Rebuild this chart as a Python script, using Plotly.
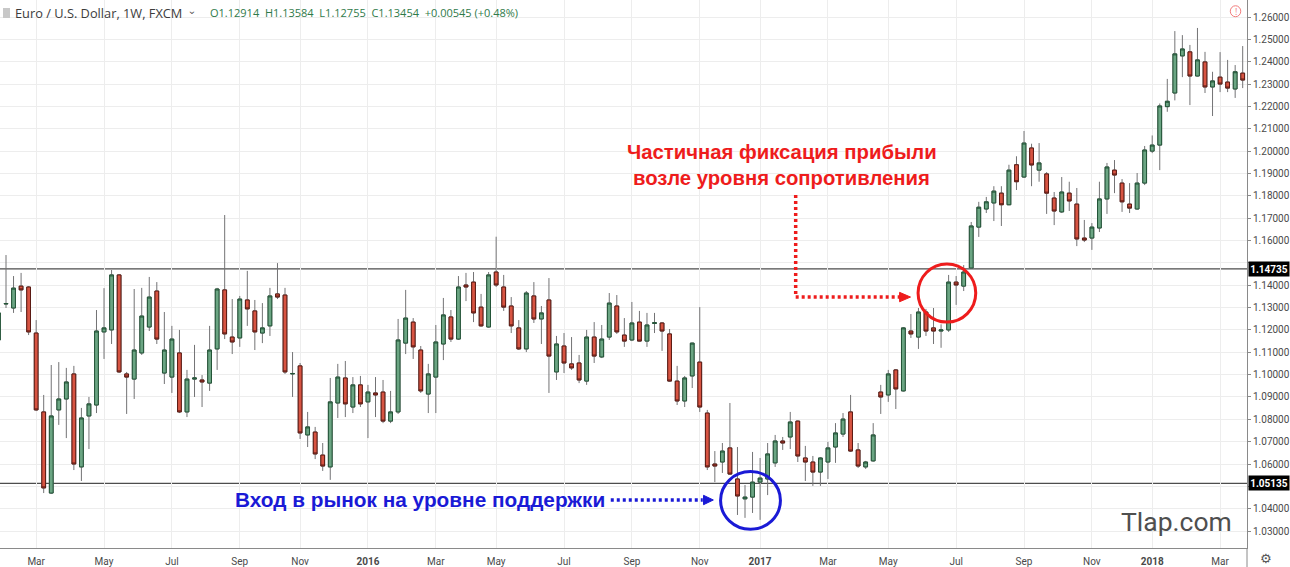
import plotly.graph_objects as go

# ---- weekly EUR/USD candles (index 0 = week of 26 Jan 2015) ----
open_ = [1.1155, 1.1316, 1.1298, 1.1396, 1.1392, 1.1186, 1.0833, 1.0470, 1.0842, 1.0891,
         1.1003, 1.0587, 1.0815, 1.0864, 1.1191, 1.1200, 1.1446, 1.1003, 1.0980, 1.1097,
         1.1213, 1.1374, 1.1007, 1.0989, 1.1097, 1.0833, 1.0980, 1.0976, 1.0962, 1.1115,
         1.1379, 1.1168, 1.1164, 1.1334, 1.1285, 1.1186, 1.1218, 1.1361, 1.1356, 1.1003,
         1.1039, 1.0730, 1.0743, 1.0640, 1.0587, 1.0873, 1.0985, 1.0855, 1.0954, 1.0878,
         1.0918, 1.0922, 1.0792, 1.0833, 1.1141, 1.1235, 1.1110, 1.0913, 1.0989, 1.1137,
         1.1258, 1.1159, 1.1401, 1.1414, 1.1302, 1.1213, 1.1459, 1.1392, 1.1307, 1.1209,
         1.1115, 1.1352, 1.1249, 1.1334, 1.1012, 1.1128, 1.1048, 1.1052, 1.0971, 1.1168,
         1.1079, 1.1168, 1.1307, 1.1177, 1.1155, 1.1235, 1.1150, 1.1229, 1.1231, 1.1182,
         1.0971, 1.0882, 1.0994, 1.1056, 1.0828, 1.0600, 1.0609, 1.0672, 1.0533, 1.0444,
         1.0452, 1.0519, 1.0533, 1.0605, 1.0703, 1.0721, 1.0792, 1.0627, 1.0609, 1.0564,
         1.0609, 1.0676, 1.0734, 1.0833, 1.0663, 1.0587, 1.0614, 1.0922, 1.0909, 1.1021,
         1.0927, 1.1195, 1.1168, 1.1280, 1.1209, 1.1195, 1.1200, 1.1414, 1.1396, 1.1477,
         1.1660, 1.1741, 1.1768, 1.1812, 1.1760, 1.1939, 1.1884, 1.2014, 1.1915, 1.1898,
         1.1790, 1.1728, 1.1812, 1.1763, 1.1611, 1.1611, 1.1656, 1.1786, 1.1915, 1.1857,
         1.1763, 1.1741, 1.1857, 1.2000, 1.2027, 1.2199, 1.2260, 1.2426, 1.2444, 1.2336,
         1.2399, 1.2287, 1.2331, 1.2309, 1.2278, 1.2349]
high = [1.1289, 1.1535, 1.1441, 1.1455, 1.1396, 1.1244, 1.0909, 1.1043, 1.1056, 1.1030,
        1.1039, 1.0851, 1.0900, 1.1289, 1.1387, 1.1468, 1.1450, 1.1012, 1.1383, 1.1388,
        1.1437, 1.1414, 1.1280, 1.1218, 1.1200, 1.1021, 1.1133, 1.0998, 1.1218, 1.1388,
        1.1714, 1.1338, 1.1352, 1.1464, 1.1334, 1.1320, 1.1388, 1.1499, 1.1388, 1.1101,
        1.1052, 1.0833, 1.0766, 1.0694, 1.0985, 1.1048, 1.1061, 1.0989, 1.0994, 1.0954,
        1.0989, 1.0976, 1.0927, 1.1249, 1.1379, 1.1253, 1.1128, 1.1048, 1.1222, 1.1343,
        1.1289, 1.1441, 1.1455, 1.1459, 1.1361, 1.1459, 1.1617, 1.1446, 1.1347, 1.1244,
        1.1374, 1.1414, 1.1307, 1.1432, 1.1173, 1.1186, 1.1168, 1.1088, 1.1200, 1.1235,
        1.1222, 1.1365, 1.1356, 1.1253, 1.1325, 1.1285, 1.1276, 1.1276, 1.1235, 1.1204,
        1.1039, 1.0994, 1.1143, 1.1302, 1.0842, 1.0658, 1.0694, 1.0873, 1.0676, 1.0506,
        1.0654, 1.0627, 1.0694, 1.0730, 1.0721, 1.0833, 1.0795, 1.0681, 1.0636, 1.0631,
        1.0699, 1.0783, 1.0828, 1.0909, 1.0694, 1.0614, 1.0783, 1.0954, 1.1021, 1.1025,
        1.1213, 1.1271, 1.1298, 1.1294, 1.1298, 1.1225, 1.1446, 1.1441, 1.1490, 1.1683,
        1.1773, 1.1795, 1.1843, 1.1843, 1.1939, 1.1977, 1.2090, 1.2033, 1.2036, 1.1906,
        1.1817, 1.1884, 1.1863, 1.1835, 1.1692, 1.1678, 1.1863, 1.1947, 1.1960, 1.1875,
        1.1857, 1.1902, 1.2023, 1.2070, 1.2213, 1.2323, 1.2537, 1.2519, 1.2475, 1.2551,
        1.2444, 1.2355, 1.2443, 1.2408, 1.2385, 1.2470]
low = [1.1146, 1.1298, 1.1276, 1.1280, 1.1177, 1.0837, 1.0470, 1.0466, 1.0775, 1.0716,
       1.0573, 1.0524, 1.0667, 1.0828, 1.1070, 1.1137, 1.1007, 1.0824, 1.0891, 1.1088,
       1.1195, 1.1137, 1.0958, 1.0918, 1.0828, 1.0810, 1.0900, 1.0855, 1.0927, 1.1021,
       1.1159, 1.1092, 1.1124, 1.1218, 1.1110, 1.1141, 1.1173, 1.1338, 1.1003, 1.0900,
       1.0712, 1.0676, 1.0622, 1.0569, 1.0529, 1.0806, 1.0810, 1.0828, 1.0855, 1.0716,
       1.0810, 1.0783, 1.0783, 1.0824, 1.1092, 1.1070, 1.0918, 1.0828, 1.0828, 1.1065,
       1.1146, 1.1155, 1.1329, 1.1235, 1.1214, 1.1210, 1.1392, 1.1285, 1.1186, 1.1110,
       1.1101, 1.1231, 1.1137, 1.0918, 1.0976, 1.1007, 1.1021, 1.0962, 1.0954, 1.1052,
       1.1074, 1.1155, 1.1182, 1.1124, 1.1150, 1.1148, 1.1124, 1.1186, 1.1106, 1.0968,
       1.0864, 1.0855, 1.0940, 1.0833, 1.0573, 1.0519, 1.0560, 1.0552, 1.0372, 1.0359,
       1.0381, 1.0350, 1.0461, 1.0587, 1.0663, 1.0667, 1.0609, 1.0524, 1.0502, 1.0502,
       1.0533, 1.0605, 1.0721, 1.0654, 1.0582, 1.0578, 1.0610, 1.0824, 1.0878, 1.0846,
       1.0924, 1.1164, 1.1115, 1.1173, 1.1137, 1.1120, 1.1191, 1.1312, 1.1374, 1.1473,
       1.1616, 1.1723, 1.1687, 1.1665, 1.1758, 1.1826, 1.1880, 1.1843, 1.1863, 1.1719,
       1.1669, 1.1723, 1.1732, 1.1575, 1.1593, 1.1558, 1.1638, 1.1719, 1.1812, 1.1728,
       1.1723, 1.1738, 1.1848, 1.1991, 1.1915, 1.2176, 1.2227, 1.2331, 1.2206, 1.2334,
       1.2260, 1.2157, 1.2264, 1.2264, 1.2238, 1.2282]
close = [1.1276, 1.1318, 1.1387, 1.1379, 1.1191, 1.0842, 1.0493, 1.0815, 1.0891, 1.0967,
         1.0600, 1.0806, 1.0869, 1.1195, 1.1209, 1.1446, 1.1012, 1.0989, 1.1110, 1.1262,
         1.1347, 1.1159, 1.1110, 1.1159, 1.0833, 1.0980, 1.0985, 1.0967, 1.1110, 1.1383,
         1.1182, 1.1146, 1.1338, 1.1294, 1.1191, 1.1209, 1.1352, 1.1347, 1.1012, 1.1005,
         1.0739, 1.0766, 1.0645, 1.0591, 1.0878, 1.0989, 1.0869, 1.0954, 1.0869, 1.0922,
         1.0909, 1.0792, 1.0833, 1.1155, 1.1253, 1.1124, 1.0927, 1.1003, 1.1146, 1.1267,
         1.1159, 1.1392, 1.1392, 1.1276, 1.1218, 1.1446, 1.1401, 1.1302, 1.1218, 1.1115,
         1.1365, 1.1249, 1.1276, 1.1083, 1.1137, 1.1052, 1.1030, 1.0976, 1.1168, 1.1083,
         1.1159, 1.1320, 1.1191, 1.1150, 1.1231, 1.1150, 1.1222, 1.1232, 1.1195, 1.0971,
         1.0882, 1.0985, 1.1141, 1.0855, 1.0587, 1.0591, 1.0658, 1.0555, 1.0457, 1.0452,
         1.0519, 1.0537, 1.0645, 1.0703, 1.0694, 1.0788, 1.0636, 1.0609, 1.0564, 1.0627,
         1.0672, 1.0739, 1.0801, 1.0658, 1.0591, 1.0609, 1.0730, 1.0900, 1.1003, 1.0936,
         1.1209, 1.1182, 1.1280, 1.1195, 1.1195, 1.1200, 1.1414, 1.1401, 1.1459, 1.1665,
         1.1749, 1.1773, 1.1821, 1.1760, 1.1915, 1.1863, 1.2036, 1.1938, 1.1947, 1.1812,
         1.1732, 1.1817, 1.1777, 1.1607, 1.1602, 1.1660, 1.1786, 1.1929, 1.1893, 1.1773,
         1.1745, 1.1857, 1.2005, 1.2027, 1.2202, 1.2223, 1.2435, 1.2457, 1.2336, 1.2408,
         1.2287, 1.2314, 1.2300, 1.2282, 1.2355, 1.2318]

tick_weeks = [5, 14, 23, 32, 40, 49, 58, 66, 75, 84, 93, 101, 110, 118, 127, 136, 145, 153, 162]
tick_labels = ["Mar", "May", "Jul", "Sep", "Nov", "<b>2016</b>", "Mar", "May", "Jul", "Sep",
               "Nov", "<b>2017</b>", "Mar", "May", "Jul", "Sep", "Nov", "<b>2018</b>", "Mar"]

price_ticks = [1.03, 1.04, 1.05, 1.06, 1.07, 1.08, 1.09, 1.10, 1.11, 1.12, 1.13, 1.14,
               1.15, 1.16, 1.17, 1.18, 1.19, 1.20, 1.21, 1.22, 1.23, 1.24, 1.25, 1.26]

resistance = 1.14735
support = 1.05135

weeks = list(range(len(open_)))
body_hi = [max(o, c) for o, c in zip(open_, close)]
body_lo = [min(o, c) for o, c in zip(open_, close)]
# price-axis labels hidden behind the level boxes (as on the reference)
price_text = ["" if abs(p - resistance) < 0.006 or abs(p - support) < 0.006 else f"{p:.5f}"
              for p in price_ticks]

UP_FILL, UP_EDGE = "#6ba583", "#225437"
DN_FILL, DN_EDGE = "#d75442", "#5b1a13"
WICK = "#737375"
RED = "#ee1c1c"
BLUE = "#1a1ad6"

fig = go.Figure()
# wicks (grey)
fig.add_trace(go.Candlestick(
    x=weeks, open=open_, high=high, low=low, close=close,
    increasing=dict(line=dict(color=WICK, width=1), fillcolor=WICK),
    decreasing=dict(line=dict(color=WICK, width=1), fillcolor=WICK),
    hoverinfo="skip", showlegend=False))
# bodies on top
fig.add_trace(go.Candlestick(
    x=weeks, open=open_, high=body_hi, low=body_lo, close=close,
    increasing=dict(line=dict(color=UP_EDGE, width=1), fillcolor=UP_FILL),
    decreasing=dict(line=dict(color=DN_EDGE, width=1), fillcolor=DN_FILL),
    hoverinfo="skip", showlegend=False))

axis_font = dict(family="Liberation Sans Narrow, Roboto, sans-serif", size=10, color="#4a4a4a")

fig.update_layout(
    width=1290, height=567,
    margin=dict(l=0, r=41, t=0, b=19),
    paper_bgcolor="white", plot_bgcolor="white",
    boxgap=0.5, boxgroupgap=0,
    showlegend=False,
    xaxis=dict(range=[0.205, 165.57], tickmode="array", tickvals=tick_weeks, ticktext=tick_labels,
               showgrid=True, gridcolor="#ededed", gridwidth=1, zeroline=False,
               showline=True, linecolor="#8a8a8a", linewidth=1,
               ticks="", tickfont=axis_font, ticklabelstandoff=4,
               rangeslider=dict(visible=False), fixedrange=True),
    yaxis=dict(range=[1.02242, 1.26761], side="right", tickmode="array",
               tickvals=price_ticks, ticktext=price_text,
               showgrid=True, gridcolor="#ededed", gridwidth=1, zeroline=False,
               showline=True, linecolor="#8a8a8a", linewidth=1,
               ticks="outside", ticklen=3, tickcolor="#8a8a8a", tickfont=axis_font,
               fixedrange=True),
)

shapes = []
for lvl in (resistance, support):
    shapes.append(dict(type="line", xref="paper", x0=0, x1=1, yref="y", y0=lvl, y1=lvl,
                       line=dict(color="#4d4d4d", width=1.3), layer="between"))
# circles
shapes.append(dict(type="circle", xref="x", yref="y", x0=121.95, x1=129.6, y0=1.1235, y1=1.1495,
                   line=dict(color=RED, width=3)))
shapes.append(dict(type="circle", xref="x", yref="y", x0=95.76, x1=103.7, y0=1.0308, y1=1.0566,
                   line=dict(color=BLUE, width=3)))
# red dotted arrow
shapes.append(dict(type="line", xref="x", yref="y", x0=105.72, x1=105.72, y0=1.1804, y1=1.1347,
                   line=dict(color=RED, width=3.5, dash="3px,3px")))
shapes.append(dict(type="line", xref="x", yref="y", x0=105.72, x1=119.6, y0=1.1347, y1=1.1347,
                   line=dict(color=RED, width=3.5, dash="3px,3px")))
shapes.append(dict(type="path", xref="x", yref="y",
                   path="M 119.5,1.1368 L 120.95,1.1347 L 119.5,1.1326 Z",
                   fillcolor=RED, line=dict(color=RED, width=1)))
# blue dotted arrow
shapes.append(dict(type="line", xref="x", yref="y", x0=81.2, x1=93.4, y0=1.0439, y1=1.0439,
                   line=dict(color=BLUE, width=3.5, dash="3px,3px")))
shapes.append(dict(type="path", xref="x", yref="y",
                   path="M 93.5,1.0460 L 94.8,1.0439 L 93.5,1.0418 Z",
                   fillcolor=BLUE, line=dict(color=BLUE, width=1)))
# header icon
shapes.append(dict(type="rect", xref="paper", yref="paper", x0=0.0024, x1=0.0080, y0=0.9672, y1=0.9854,
                   fillcolor="#c8c8c8", line=dict(width=0)))
# red alert circle
shapes.append(dict(type="circle", xref="paper", yref="paper", x0=0.9866, x1=0.9950, y0=0.9695, y1=0.9895,
                   line=dict(color="#f27c7c", width=1)))
# axis line extension below plot
shapes.append(dict(type="line", xref="paper", yref="paper", x0=1, x1=1, y0=0, y1=-0.04,
                   line=dict(color="#8a8a8a", width=1)))
fig.update_layout(shapes=shapes)

ann = []
ann.append(dict(xref="paper", yref="paper", x=0.0104, y=0.9763, xanchor="left", yanchor="middle",
                text="Euro / U.S. Dollar, 1W, FXCM", showarrow=False,
                font=dict(family="Open Sans, sans-serif", size=12.8, color="#3c3c3c")))
ann.append(dict(xref="paper", yref="paper", x=0.1475, y=0.9775, xanchor="left", yanchor="middle",
                text="›", textangle=90, showarrow=False,
                font=dict(family="Open Sans, sans-serif", size=11, color="#3c3c3c")))
ann.append(dict(xref="paper", yref="paper", x=0.1665, y=0.9763, xanchor="left", yanchor="middle",
                text="O1.12914\u00a0\u00a0H1.13584\u00a0\u00a0L1.12755\u00a0\u00a0C1.13454\u00a0\u00a0+0.00545 (+0.48%)",
                showarrow=False, font=dict(family="Open Sans, sans-serif", size=11, color="#2f7a4a")))
ann.append(dict(xref="paper", yref="paper", x=0.9908, y=0.9795, xanchor="center", yanchor="middle",
                text="!", showarrow=False, font=dict(family="Open Sans, sans-serif", size=9, color="#f27c7c")))
# annotation texts
txt_font_r = dict(family="Liberation Sans, Arial, sans-serif", size=20.3, color=RED)
ann.append(dict(xref="x", yref="y", x=103.9, y=1.1996, xanchor="center", yanchor="middle",
                text="<b>Частичная фиксация прибыли</b>", showarrow=False, font=txt_font_r))
ann.append(dict(xref="x", yref="y", x=103.9, y=1.1880, xanchor="center", yanchor="middle",
                text="<b>возле уровня сопротивления</b>", showarrow=False, font=txt_font_r))
ann.append(dict(xref="x", yref="y", x=55.95, y=1.0439, xanchor="center", yanchor="middle",
                text="<b>Вход в рынок на уровне поддержки</b>", showarrow=False,
                font=dict(family="Liberation Sans, Arial, sans-serif", size=20.8, color=BLUE)))
# watermark
ann.append(dict(xref="paper", yref="paper", x=0.9432, y=0.0475, xanchor="center", yanchor="middle",
                text="Tlap.com", showarrow=False,
                font=dict(family="Roboto, sans-serif", size=26.5, color="#4f4f4f")))
# level labels on price axis
for lvl in (resistance, support):
    ann.append(dict(xref="paper", yref="y", x=1, y=lvl, xanchor="left", yanchor="middle", xshift=1,
                    text=f"<b>{lvl:.5f}</b>", showarrow=False, bgcolor="#000000", width=38, height=12,
                    borderpad=1, font=dict(family="Liberation Sans Narrow, Roboto, sans-serif",
                                           size=10, color="white")))
# gear icon
ann.append(dict(xref="paper", yref="paper", x=1.0152, y=-0.02, xanchor="center", yanchor="middle",
                text="⚙", showarrow=False, font=dict(family="DejaVu Sans, sans-serif", size=13, color="#555555")))
fig.update_layout(annotations=ann)

fig.write_html("out.html")
